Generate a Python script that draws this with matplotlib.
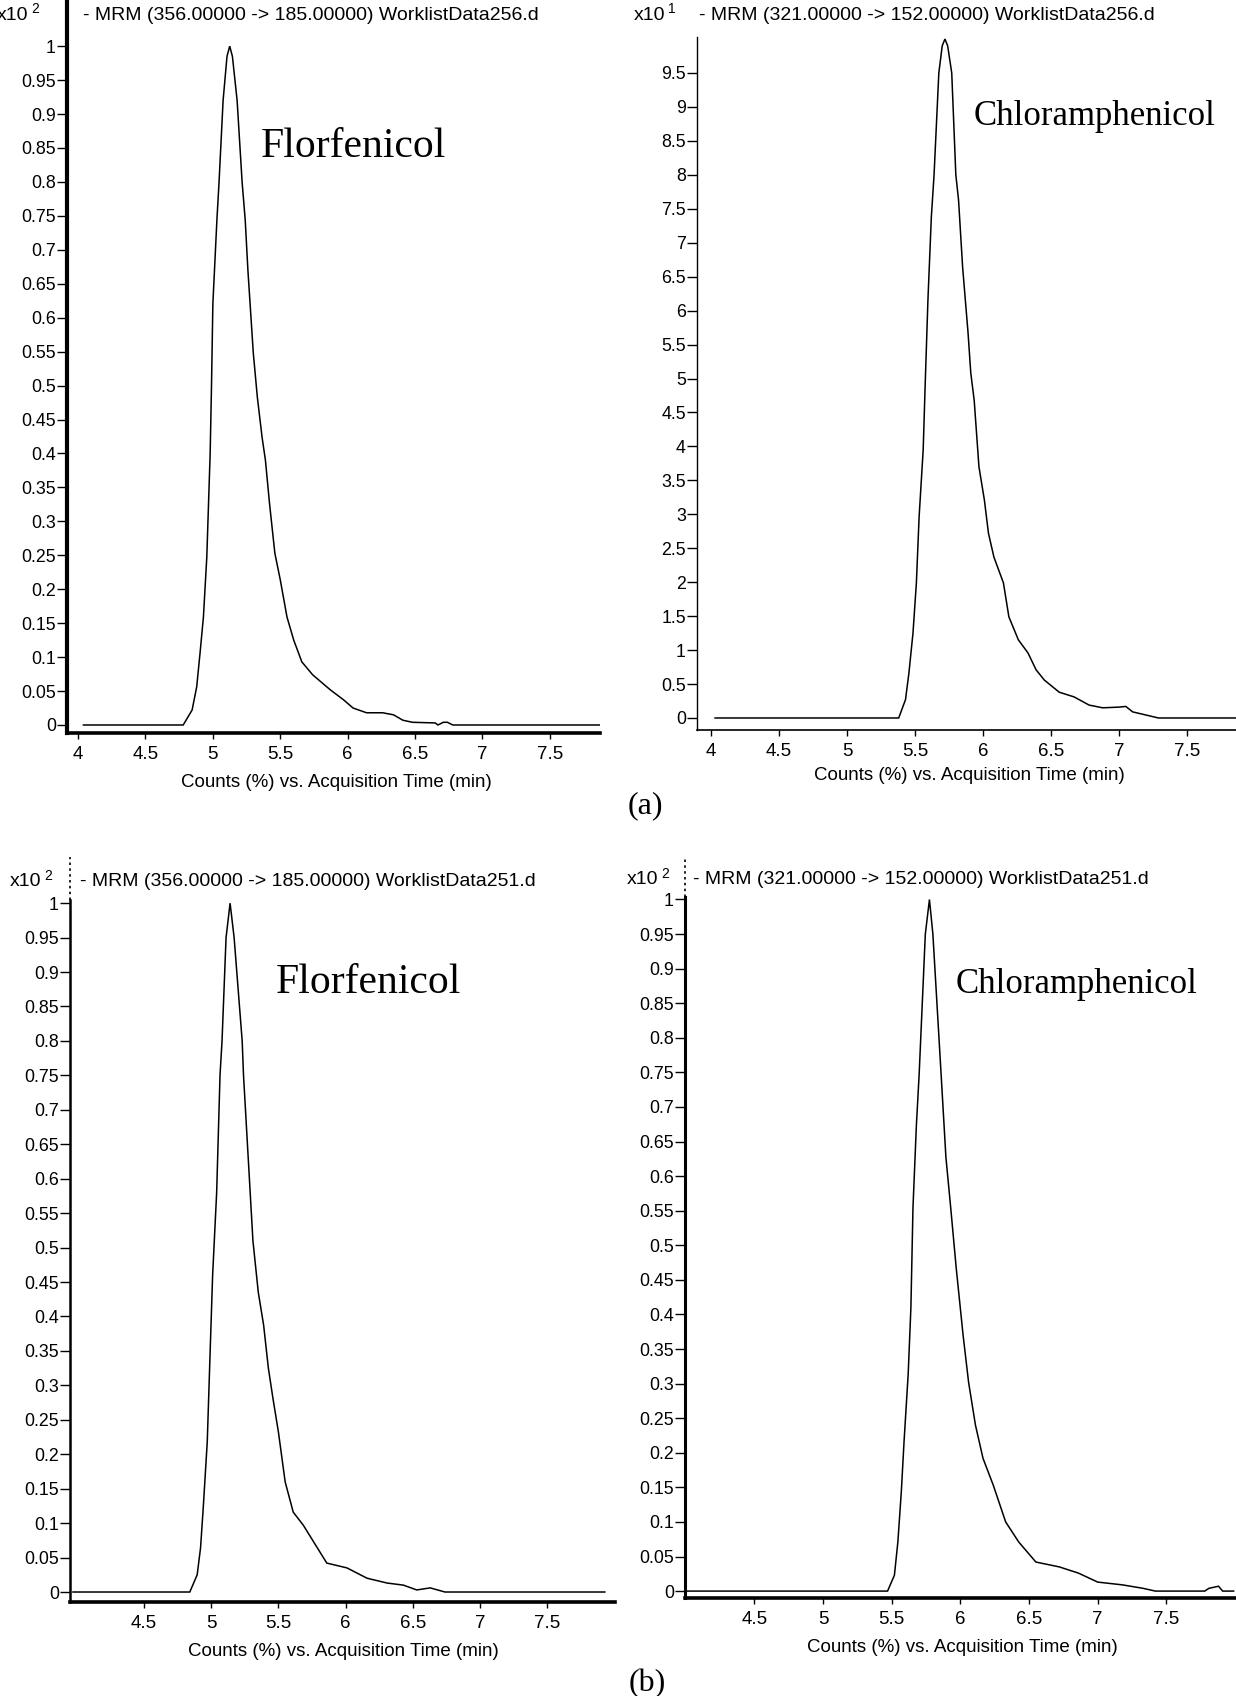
import matplotlib
matplotlib.use("Agg")
import matplotlib.pyplot as plt
import numpy as np

plt.rcParams["font.family"] = ["Liberation Sans", "DejaVu Sans"]

# ---- chromatogram traces (time in min, counts relative scale) ----
flor_a_t = [4.04, 4.78, 4.846, 4.88, 4.905, 4.93, 4.955, 4.98, 4.99, 5.00, 5.03, 5.046,
            5.076, 5.105, 5.125, 5.145, 5.18, 5.217, 5.24, 5.26, 5.30, 5.33, 5.365, 5.39,
            5.42, 5.46, 5.50, 5.55, 5.60, 5.66, 5.74, 5.87, 5.97, 6.04, 6.14, 6.26, 6.34,
            6.41, 6.48, 6.65, 6.67, 6.71, 6.74, 6.78, 7.87]
flor_a_y = [0, 0, 0.022, 0.056, 0.106, 0.159, 0.247, 0.40, 0.50, 0.62, 0.744, 0.80,
            0.92, 0.985, 1.0, 0.985, 0.92, 0.80, 0.744, 0.67, 0.548, 0.483, 0.424, 0.39,
            0.327, 0.253, 0.214, 0.159, 0.125, 0.093, 0.074, 0.052, 0.037, 0.025, 0.018,
            0.018, 0.015, 0.007, 0.004, 0.003, 0.0, 0.004, 0.004, 0.0, 0.0]

chlor_a_t = [4.03, 5.38, 5.43, 5.455, 5.485, 5.51, 5.53, 5.56, 5.575, 5.595, 5.62, 5.64,
             5.675, 5.70, 5.72, 5.74, 5.77, 5.80, 5.82, 5.85, 5.89, 5.91, 5.935, 5.97,
             6.01, 6.04, 6.08, 6.15, 6.19, 6.26, 6.33, 6.39, 6.45, 6.56, 6.67, 6.78, 6.88,
             7.0, 7.05, 7.10, 7.29, 7.86]
chlor_a_y = [0, 0, 0.27, 0.66, 1.25, 1.99, 2.96, 3.95, 4.93, 6.16, 7.38, 8.0,
             9.5, 9.9, 10.0, 9.9, 9.5, 8.0, 7.63, 6.64, 5.67, 5.08, 4.68, 3.70,
             3.21, 2.72, 2.37, 1.99, 1.49, 1.15, 0.96, 0.71, 0.56, 0.38, 0.31, 0.19, 0.15,
             0.16, 0.17, 0.09, 0.0, 0.0]

flor_b_t = [3.97, 4.84, 4.895, 4.92, 4.94, 4.97, 4.99, 5.01, 5.04, 5.065, 5.08, 5.11,
            5.14, 5.17, 5.23, 5.24, 5.275, 5.31, 5.35, 5.39, 5.425, 5.46, 5.50, 5.55,
            5.61, 5.685, 5.79, 5.86, 6.01, 6.16, 6.31, 6.43, 6.53, 6.63, 6.74, 7.93]
flor_b_y = [0, 0, 0.025, 0.064, 0.122, 0.218, 0.34, 0.46, 0.58, 0.75, 0.80, 0.95,
            1.0, 0.95, 0.80, 0.75, 0.63, 0.51, 0.435, 0.387, 0.325, 0.28, 0.232, 0.16,
            0.116, 0.097, 0.064, 0.042, 0.035, 0.02, 0.013, 0.01, 0.003, 0.006, 0.0, 0.0]

chlor_b_t = [4.01, 5.47, 5.52, 5.545, 5.57, 5.59, 5.62, 5.64, 5.655, 5.68, 5.70, 5.745,
             5.775, 5.80, 5.86, 5.895, 5.93, 5.97, 6.02, 6.06, 6.11, 6.165, 6.24, 6.33,
             6.425, 6.55, 6.72, 6.86, 7.0, 7.18, 7.33, 7.42, 7.78, 7.81, 7.88, 7.91, 7.99]
chlor_b_y = [0, 0, 0.023, 0.071, 0.143, 0.216, 0.313, 0.41, 0.554, 0.674, 0.747, 0.95,
             1.0, 0.95, 0.747, 0.627, 0.554, 0.467, 0.37, 0.302, 0.24, 0.192, 0.153, 0.10,
             0.071, 0.042, 0.035, 0.026, 0.013, 0.009, 0.004, 0.0, 0.0, 0.004, 0.007, 0.0, 0.0]

# ---- axis ticks and labels ----
ticks_frac = [round(0.05 * i, 2) for i in range(21)]          # 0 ... 1
ticks_x10 = [round(0.5 * i, 1) for i in range(20)]             # 0 ... 9.5
xticks_a = [4, 4.5, 5, 5.5, 6, 6.5, 7, 7.5]
xticks_b = [4.5, 5, 5.5, 6, 6.5, 7, 7.5]

titles = ["- MRM (356.00000 -> 185.00000) WorklistData256.d",
          "- MRM (321.00000 -> 152.00000) WorklistData256.d",
          "- MRM (356.00000 -> 185.00000) WorklistData251.d",
          "- MRM (321.00000 -> 152.00000) WorklistData251.d"]
exponents = ["2", "1", "2", "2"]
compounds = ["Florfenicol", "Chloramphenicol", "Florfenicol", "Chloramphenicol"]
xlabel = "Counts (%) vs. Acquisition Time (min)"

W, H = 1236, 1696
fig = plt.figure(figsize=(W / 100, H / 100), dpi=100)


def px_box(left, top, right, bottom):
    return [left / W, 1 - bottom / H, (right - left) / W, (bottom - top) / H]


def px(x, y):
    return x / W, 1 - y / H


def fmt(v):
    return f"{v:g}"


panels = [
    dict(box=(67, 0, 600, 733), xlim=(3.918, 7.872), ylim=(-0.0118, 1.068),
         t=flor_a_t, y=flor_a_y, yt=ticks_frac, xt=xticks_a, lw_left=3.0, lw_bot=2.6,
         exp_pos=(-3, 15), title_pos=(83, 15), name_pos=(261, 157), name_size=30,
         xl_pos=(336, 782), dotted_top=False),
    dict(box=(697, 37, 1236, 730), xlim=(3.897, 7.86), ylim=(-0.177, 10.03),
         t=chlor_a_t, y=chlor_a_y, yt=ticks_x10, xt=xticks_a, lw_left=1.0, lw_bot=1.2,
         exp_pos=(634, 15), title_pos=(699, 15), name_pos=(974, 125), name_size=25,
         xl_pos=(969, 775), dotted_top=False),
    dict(box=(70, 857, 615, 1602), xlim=(3.948, 8.006), ylim=(-0.0145, 1.067),
         t=flor_b_t, y=flor_b_y, yt=ticks_frac, xt=xticks_b, lw_left=1.8, lw_bot=2.6,
         exp_pos=(10, 882), title_pos=(80, 882), name_pos=(276, 993), name_size=30,
         xl_pos=(343, 1652), dotted_top=True),
    dict(box=(685, 858, 1235, 1598), xlim=(3.995, 8.0), ylim=(-0.01, 1.06),
         t=chlor_b_t, y=chlor_b_y, yt=ticks_frac, xt=xticks_b, lw_left=2.2, lw_bot=2.6,
         exp_pos=(627, 880), title_pos=(693, 880), name_pos=(956, 993), name_size=25,
         xl_pos=(962, 1647), dotted_top=True),
]

for i, p in enumerate(panels):
    ax = fig.add_axes(px_box(*p["box"]))
    ax.plot(p["t"], p["y"], color="black", lw=1.1, solid_joinstyle="miter")
    ax.set_xlim(*p["xlim"])
    ax.set_ylim(*p["ylim"])
    ax.patch.set_alpha(0)
    for s in ("top", "right"):
        ax.spines[s].set_visible(False)
    ax.spines["left"].set_linewidth(p["lw_left"])
    ax.spines["bottom"].set_linewidth(p["lw_bot"])
    if p["dotted_top"]:
        top_val = 1.004
        ax.spines["left"].set_bounds(p["ylim"][0], top_val)
        frac = (top_val - p["ylim"][0]) / (p["ylim"][1] - p["ylim"][0])
        ax.axvline(p["xlim"][0], ymin=frac, ymax=1.0, color="black", lw=1.2,
                   ls=(0, (1.5, 2.0)), clip_on=False)
    ax.set_yticks(p["yt"])
    ax.set_yticklabels([fmt(v) for v in p["yt"]])
    ax.set_xticks(p["xt"])
    ax.set_xticklabels([fmt(v) for v in p["xt"]])
    ax.tick_params(axis="y", direction="out", length=7, width=1.0, pad=1,
                   labelsize=12.8)
    ax.tick_params(axis="x", direction="out", length=4.5, width=1.0, pad=5,
                   labelsize=13.5)

    # scale exponent and trace header
    ex, ey = p["exp_pos"]
    fig.text(*px(ex, ey), "x10", fontsize=14, ha="left", va="center")
    fig.text(*px(ex + 34, ey - 6), exponents[i], fontsize=10, ha="left", va="center")
    fig.text(*px(*p["title_pos"]), titles[i], fontsize=14, ha="left", va="center")

    # compound name
    fig.text(*px(*p["name_pos"]), compounds[i], fontsize=p["name_size"],
             family="Liberation Serif", ha="left", va="baseline")

    # axis caption
    fig.text(*px(*p["xl_pos"]), xlabel, fontsize=13.5, ha="center", va="center")

fig.text(*px(645, 806), "(a)", fontsize=23, family="Liberation Serif",
         ha="center", va="center")
fig.text(*px(647, 1684), "(b)", fontsize=23, family="Liberation Serif",
         ha="center", va="center")

fig.savefig("out.png", dpi=100, facecolor="white")
